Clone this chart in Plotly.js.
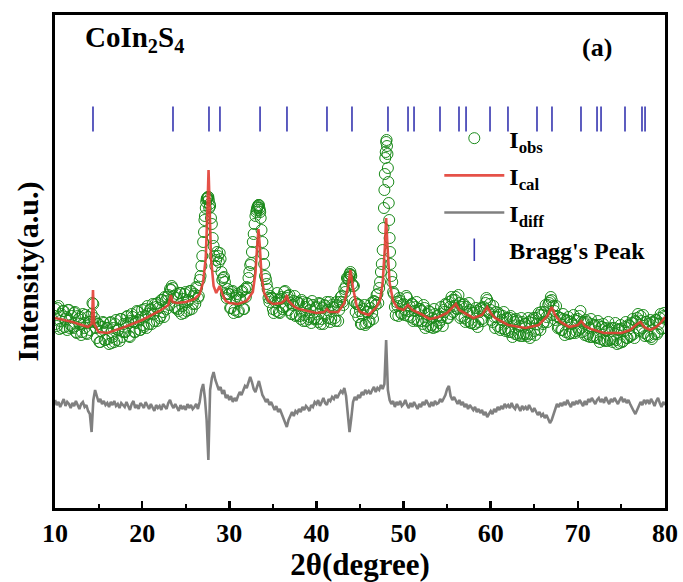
<!DOCTYPE html>
<html>
<head>
<meta charset="utf-8">
<script src="https://cdn.plot.ly/plotly-3.0.1.min.js"></script>
<style>html,body{margin:0;padding:0;background:#fff;}#chart{width:683px;height:582px;}</style>
</head>
<body>
<div id="chart"></div>
<script>
// 2theta grid of the observed / difference patterns (degrees, step 0.2, starting at 10.0)
var gridStart = 10, gridStep = 0.2;

// observed intensity (a.u.) on the 0.2 degree grid 10.0..80.0, 10 values per 2 degrees
var obsIntensity = [
  199,182,202,187,180,197,189,178,198,183,
  181,195,176,192,184,173,194,180,175,191,
  178,194,204,186,170,184,166,181,185,168,
  180,164,186,171,166,188,178,167,189,176,
  176,191,185,171,194,186,176,197,188,178,
  198,181,192,202,184,199,204,187,201,205,
  190,208,196,211,199,213,219,222,212,200,
  214,197,215,202,195,216,206,198,217,204,
  214,221,210,228,242,266,292,309,311,302,
  284,262,242,256,246,249,228,231,214,219,
  214,200,217,198,212,196,210,216,199,219,
  221,230,243,256,274,292,300,303,290,266,
  244,229,219,206,210,199,209,197,208,195,
  211,201,217,210,198,205,194,207,192,206,
  205,189,206,193,187,204,191,185,203,190,
  201,186,204,189,184,202,206,190,186,203,
  200,187,203,198,211,206,219,222,230,234,
  232,222,206,204,191,197,184,199,183,196,
  186,200,195,207,203,214,220,236,258,318,
  366,340,270,232,216,201,206,192,207,194,
  204,198,210,197,191,204,189,201,187,199,
  197,184,200,187,182,196,183,180,194,182,
  193,188,191,198,204,190,206,194,208,202,
  211,199,205,192,203,190,201,187,198,185,
  195,184,197,186,199,189,201,205,208,195,
  198,186,191,196,182,193,180,192,179,190,
  178,190,176,188,174,187,175,172,186,174,
  184,172,186,174,188,177,190,179,193,196,
  184,196,191,203,207,208,202,188,192,181,
  190,178,189,176,187,174,186,175,188,177,
  189,192,180,185,173,186,174,171,184,172,
  182,170,183,169,181,168,180,167,179,169,
  166,180,168,178,165,179,167,181,170,183,
  172,185,174,187,190,178,192,180,175,186,
  173,184,171,186,174,188,176,190,179,192,
  191
];

// observed intensity (a.u.) on the in-between grid 10.1..79.9
var obsIntensityMid = [
  184,200,179,194,197,181,191,198,180,192,
  180,196,175,189,191,176,185,193,174,186,
  186,205,190,180,184,166,177,186,168,180,
  169,185,165,180,184,168,178,189,171,184,
  176,192,172,187,191,176,185,196,178,191,
  183,199,180,194,198,184,194,204,187,200,
  192,208,191,207,211,203,218,220,201,210,
  199,215,194,209,214,197,208,217,199,212,
  204,220,212,232,252,276,300,310,300,290,
  270,252,248,252,255,236,230,226,210,214,
  200,216,195,210,214,197,208,217,199,211,
  220,236,245,266,284,296,302,298,278,254,
  232,224,210,212,210,195,206,215,196,209,
  199,216,202,212,213,194,203,212,193,205,
  192,208,187,201,205,189,198,207,189,200,
  189,205,184,200,203,194,198,206,189,201,
  190,206,187,206,212,203,216,230,228,236,
  224,222,196,204,203,184,193,203,185,196,
  187,205,189,206,213,205,226,244,280,350,
  362,305,244,226,214,193,202,210,195,203,
  193,212,192,202,204,187,197,206,188,199,
  187,203,180,194,197,181,190,199,181,192,
  185,201,182,196,203,190,201,211,196,208,
  199,213,190,201,204,186,196,205,185,195,
  184,200,181,196,200,187,198,210,196,204,
  188,202,180,191,195,178,188,196,177,189,
  176,192,171,186,189,173,182,190,172,184,
  174,190,170,185,190,173,184,195,178,193,
  186,203,186,205,211,193,197,202,180,190,
  178,194,173,188,191,175,184,193,175,187,
  178,197,176,186,188,172,180,189,171,183,
  171,187,166,181,184,167,177,186,168,180,
  169,185,164,179,183,166,177,186,170,182,
  172,189,170,186,194,177,187,193,172,186,
  172,188,169,185,188,174,184,194,180,195
];

// extra observed points read on the steep peak flanks
var obsPeak2theta = [27.15,27.35,27.45,27.55,27.65,27.75,
                     33.15,33.25,33.35,33.45,33.55,43.75,43.85,43.95,
                     47.75,47.85,47.95,48.05,48.15,48.25,48.35,48.45];
var obsPeakIntensity = [288,306,310,311,308,304,
                        298,301,303,300,296,231,234,233,
                        300,334,356,368,354,326,288,256];

// difference curve (a.u.) on the 0.2 degree grid 10.0..80.0
var diffIntensity = [
  108,103,106,101,105,109,102,106,104,100,
  105,102,107,103,99,104,106,101,103,97,
  94,76,108,118,112,106,109,104,107,103,
  105,101,106,103,107,102,104,100,105,103,
  101,106,102,98,104,107,100,103,99,105,
  103,100,106,102,99,104,101,97,103,100,
  102,98,104,101,99,105,108,103,100,104,
  101,97,103,99,102,98,104,100,103,99,
  101,104,99,106,118,124,110,88,48,118,
  130,136,128,122,118,121,114,118,110,113,
  108,112,106,110,107,112,116,113,118,122,
  120,126,131,126,119,116,122,127,120,113,
  110,106,109,103,106,101,98,102,96,99,
  94,90,86,81,88,93,96,92,97,95,
  99,96,101,98,102,100,97,103,101,106,
  104,108,102,106,110,105,103,109,107,111,
  109,113,110,114,117,115,120,112,96,76,
  90,106,111,108,113,110,116,113,118,115,
  117,114,118,121,116,120,118,123,119,124,
  168,118,108,104,107,101,106,103,107,102,
  104,108,103,100,105,101,106,103,99,104,
  101,106,103,108,104,101,106,102,107,104,
  105,109,106,110,113,119,122,112,108,111,
  107,104,108,103,106,101,104,99,103,100,
  98,101,96,99,95,98,93,96,91,94,
  97,94,99,96,101,98,102,99,104,101,
  103,100,105,101,99,104,100,97,102,99,
  101,98,103,99,96,100,97,93,96,92,
  94,90,93,88,85,88,94,99,104,101,
  105,102,106,103,108,104,101,106,103,107,
  104,108,105,102,107,103,109,106,110,107,
  104,108,110,106,109,105,111,107,104,109,
  106,110,107,104,108,111,106,109,105,108,
  104,100,97,94,98,102,106,103,108,105,
  108,104,109,106,102,107,110,105,101,106,
  103
];

// calculated profile
var cal2theta = [10,12,13.8,14.2,14.3,14.36,14.42,14.5,15,16,18,20,22,23,23.3,23.5,24,25,26,26.6,
  27.0,27.3,27.5,27.62,27.75,27.9,28.2,28.5,28.9,29.2,29.6,30,31,32,32.7,33.0,33.2,33.35,33.5,33.7,
  34,34.5,35,36,36.4,36.6,36.8,37.5,38,40,40.9,41.2,41.5,42.5,43.2,43.6,43.9,44.2,44.6,45,
  46,46.8,47.3,47.6,47.85,48.0,48.15,48.4,48.8,49.3,50,50.5,51,52,53,54,55,55.6,56.0,56.4,
  57,58,59,59.6,60,60.5,62,64,65.5,66.5,67.0,67.4,68,69,70,70.4,70.8,71.5,73,75,
  76,76.8,77.2,77.6,78.3,79,79.5,80];
var calIntensity = [190,186,181,184,200,218,200,184,176,175,181,188,197,203,213,206,205,206,209,214,
  226,250,300,338,300,250,222,215,222,214,207,205,204,207,216,235,262,279,262,232,
  215,207,204,205,208,213,207,201,199,195,196,199,196,196,205,220,238,220,203,196,
  193,200,208,225,260,290,262,225,207,200,198,203,198,194,189,191,195,200,204,198,
  195,190,193,201,195,190,183,180,183,192,201,193,186,181,183,187,182,179,175,175,
  178,184,186,181,178,181,185,191];

// Bragg reflection positions (degrees)
var braggPositions = [14.36,23.54,27.67,28.93,33.53,36.62,41.21,44.08,48.21,50.51,51.20,54.18,
  56.36,57.17,59.92,61.98,65.31,67.03,70.36,72.20,72.66,75.41,77.36,77.71];
var braggLevel = 389;

var xTicks = [10,20,30,40,50,60,70,80];

var gridX = obsIntensity.map(function(_, i){ return +(gridStart + i*gridStep).toFixed(2); });
var gridMidX = obsIntensityMid.map(function(_, i){ return +(gridStart + gridStep/2 + i*gridStep).toFixed(2); });
var serif = 'Liberation Serif, Times New Roman, serif';
var green = '#1a8a1a';

var traces = [
  {x: gridX.concat(gridMidX, obsPeak2theta), y: obsIntensity.concat(obsIntensityMid, obsPeakIntensity),
   type:'scatter', mode:'markers', name:'I<sub>obs</sub>', legendgroup:'a',
   marker:{symbol:'circle-open', size:11, color:green, line:{color:green, width:1}}},
  {x: cal2theta, y: calIntensity, type:'scatter', mode:'lines', name:'I<sub>cal</sub>', legendgroup:'b',
   line:{color:'rgba(226,62,52,0.9)', width:2.6}},
  {x: gridX, y: diffIntensity, type:'scatter', mode:'lines', name:'I<sub>diff</sub>', legendgroup:'c',
   line:{color:'#808080', width:2.6}},
  {x: braggPositions, y: braggPositions.map(function(){return braggLevel;}), type:'scatter', mode:'markers',
   name:"Bragg's Peak", legendgroup:'d',
   marker:{symbol:'line-ns', size:18, line:{color:'#3535b0', width:1.6}}}
];

var layout = {
  width:683, height:582,
  margin:{l:55, r:18, t:15, b:74},
  paper_bgcolor:'#ffffff', plot_bgcolor:'#ffffff',
  showlegend:true,
  legend:{x:0.63, y:0.795, xanchor:'left', yanchor:'top', bgcolor:'rgba(0,0,0,0)',
          font:{family:serif, size:24, color:'#000', weight:'bold'}, itemwidth:60, tracegroupgap:3},
  xaxis:{range:[10,80], tickvals:xTicks, ticktext:xTicks.map(String), ticks:'inside', ticklen:7, tickwidth:2.5,
         tickcolor:'#000', showline:true, linewidth:3, linecolor:'#000', mirror:true, showgrid:false, zeroline:false,
         minor:{tickvals:[15,25,35,45,55,65,75], ticks:'inside', ticklen:4, tickwidth:2, tickcolor:'#000'},
         tickfont:{family:serif, size:26, color:'#000', weight:'bold'}, ticklabelstandoff:0,
         title:{text:'2θ(degree)', font:{family:serif, size:31, color:'#000', weight:'bold'}, standoff:14}},
  yaxis:{range:[0,493], showticklabels:false, ticks:'', showline:true, linewidth:3, linecolor:'#000', mirror:true,
         showgrid:false, zeroline:false},
  annotations:[
    {xref:'paper', yref:'paper', x:-0.044, y:0.48, xanchor:'center', yanchor:'middle', showarrow:false, textangle:-90,
     text:'Intensity(a.u.)', font:{family:serif, size:30, color:'#000', weight:'bold'}},
    {xref:'paper', yref:'paper', x:0.046, y:0.952, xanchor:'left', yanchor:'middle', showarrow:false,
     text:'CoIn<sub>2</sub>S<sub>4</sub>', font:{family:serif, size:29, color:'#000', weight:'bold'}},
    {xref:'paper', yref:'paper', x:0.889, y:0.935, xanchor:'center', yanchor:'middle', showarrow:false,
     text:'(a)', font:{family:serif, size:26, color:'#000', weight:'bold'}}
  ]
};

Plotly.newPlot('chart', traces, layout, {staticPlot:true, displayModeBar:false});
</script>
</body>
</html>
